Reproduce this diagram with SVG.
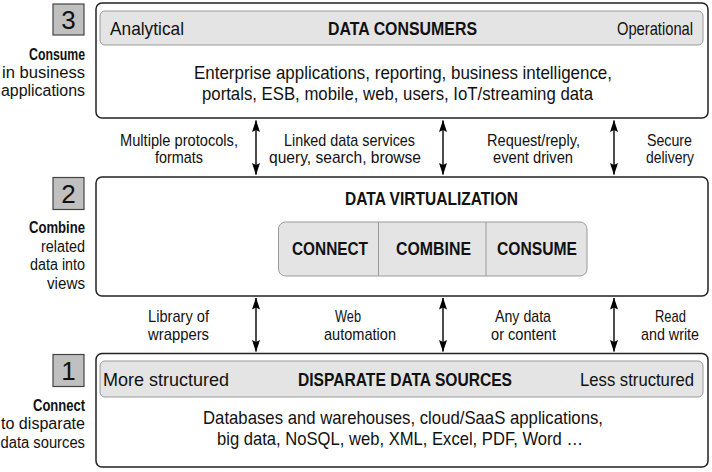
<svg xmlns="http://www.w3.org/2000/svg" width="712" height="472" viewBox="0 0 712 472">
<defs>
<marker id="ah" viewBox="0 0 12 8" refX="11.5" refY="4" markerWidth="12" markerHeight="8" markerUnits="userSpaceOnUse" orient="auto-start-reverse">
<path d="M0,0 L12,4 L0,8 L2,4 Z" fill="#000"/>
</marker>
<style>
text{font-family:"Liberation Sans",Arial,sans-serif;fill:#111}
.t{font-size:18.5px}
.b{font-weight:bold}
.s{font-size:16px}
.c{font-size:17px}
.n{font-size:26px}
.m{text-anchor:middle}
.e{text-anchor:end}
.box{fill:#fff;stroke:#222;stroke-width:1.5}
.bar{fill:#e4e4e4;stroke:#9a9a9a;stroke-width:1}
.num{fill:#c0c0c0;stroke:#444;stroke-width:1.2}
.arr{stroke:#000;stroke-width:1.4;fill:none;marker-start:url(#ah);marker-end:url(#ah)}
</style>
</defs>
<g id="layer3">
<rect class="box" x="96" y="3" width="612" height="115" rx="6"/>
<rect class="bar" x="100" y="11" width="603" height="34" rx="5"/>
<text class="t" x="110" y="34.5" textLength="74" lengthAdjust="spacingAndGlyphs">Analytical</text>
<text class="t b" x="328" y="34.5" textLength="149" lengthAdjust="spacingAndGlyphs">DATA CONSUMERS</text>
<text class="t" x="617" y="34.5" textLength="76" lengthAdjust="spacingAndGlyphs">Operational</text>
<text class="t" x="194" y="79" textLength="418" lengthAdjust="spacingAndGlyphs">Enterprise applications, reporting, business intelligence,</text>
<text class="t" x="202" y="100" textLength="391" lengthAdjust="spacingAndGlyphs">portals, ESB, mobile, web, users, IoT/streaming data</text>
</g>
<g id="label3">
<rect class="num" x="53" y="4" width="31" height="31"/>
<text class="n m" x="68.5" y="29">3</text>
<text class="s b" x="29" y="59.5" textLength="56" lengthAdjust="spacingAndGlyphs">Consume</text>
<text class="s" x="2" y="77.5" textLength="83" lengthAdjust="spacingAndGlyphs">in business</text>
<text class="s" x="1" y="95.5" textLength="84" lengthAdjust="spacingAndGlyphs">applications</text>
</g>
<g id="layer2">
<rect class="box" x="96" y="177" width="612" height="119" rx="6"/>
<text class="t b" x="345" y="205" textLength="173" lengthAdjust="spacingAndGlyphs">DATA VIRTUALIZATION</text>
<rect class="bar" x="278.5" y="222" width="308.5" height="54" rx="7"/>
<line x1="378.5" y1="222" x2="378.5" y2="276" stroke="#9a9a9a" stroke-width="1"/>
<line x1="486" y1="222" x2="486" y2="276" stroke="#9a9a9a" stroke-width="1"/>
<text class="t b" x="292" y="254.5" textLength="76" lengthAdjust="spacingAndGlyphs">CONNECT</text>
<text class="t b" x="396" y="254.5" textLength="75" lengthAdjust="spacingAndGlyphs">COMBINE</text>
<text class="t b" x="497" y="254.5" textLength="80" lengthAdjust="spacingAndGlyphs">CONSUME</text>
</g>
<g id="label2">
<rect class="num" x="53" y="177.5" width="31" height="32"/>
<text class="n m" x="68.5" y="203">2</text>
<text class="s b" x="29" y="233" textLength="56" lengthAdjust="spacingAndGlyphs">Combine</text>
<text class="s" x="41" y="251.5" textLength="44" lengthAdjust="spacingAndGlyphs">related</text>
<text class="s" x="30" y="270" textLength="55" lengthAdjust="spacingAndGlyphs">data into</text>
<text class="s" x="47" y="289" textLength="38" lengthAdjust="spacingAndGlyphs">views</text>
</g>
<g id="layer1">
<rect class="box" x="96" y="353.5" width="612" height="113.5" rx="6"/>
<rect class="bar" x="100" y="361" width="603" height="36" rx="5"/>
<text class="t" x="103" y="386" textLength="126" lengthAdjust="spacingAndGlyphs">More structured</text>
<text class="t b" x="298" y="386" textLength="214" lengthAdjust="spacingAndGlyphs">DISPARATE DATA SOURCES</text>
<text class="t" x="580" y="386" textLength="114" lengthAdjust="spacingAndGlyphs">Less structured</text>
<text class="t" x="203" y="424" textLength="400" lengthAdjust="spacingAndGlyphs">Databases and warehouses, cloud/SaaS applications,</text>
<text class="t" x="217" y="444.5" textLength="366" lengthAdjust="spacingAndGlyphs">big data, NoSQL, web, XML, Excel, PDF, Word …</text>
</g>
<g id="label1">
<rect class="num" x="53" y="354.5" width="31" height="32"/>
<text class="n m" x="68.5" y="380">1</text>
<text class="s b" x="33" y="410.5" textLength="52" lengthAdjust="spacingAndGlyphs">Connect</text>
<text class="s" x="1" y="429" textLength="84" lengthAdjust="spacingAndGlyphs">to disparate</text>
<text class="s" x="0.5" y="447.5" textLength="84.5" lengthAdjust="spacingAndGlyphs">data sources</text>
</g>
<g id="connectors">
<line class="arr" x1="256" y1="120.5" x2="256" y2="174.5"/>
<line class="arr" x1="443" y1="120.5" x2="443" y2="174.5"/>
<line class="arr" x1="614" y1="120.5" x2="614" y2="174.5"/>
<line class="arr" x1="256" y1="298" x2="256" y2="351.5"/>
<line class="arr" x1="443" y1="298" x2="443" y2="351.5"/>
<line class="arr" x1="614" y1="298" x2="614" y2="351.5"/>
</g>
<g id="connector-labels">
<text class="c" x="120" y="145.5" textLength="118" lengthAdjust="spacingAndGlyphs">Multiple protocols,</text>
<text class="c" x="155" y="163" textLength="48" lengthAdjust="spacingAndGlyphs">formats</text>
<text class="c" x="284" y="145.5" textLength="131" lengthAdjust="spacingAndGlyphs">Linked data services</text>
<text class="c" x="269" y="163" textLength="152" lengthAdjust="spacingAndGlyphs">query, search, browse</text>
<text class="c" x="487" y="145.5" textLength="93" lengthAdjust="spacingAndGlyphs">Request/reply,</text>
<text class="c" x="493" y="163" textLength="80" lengthAdjust="spacingAndGlyphs">event driven</text>
<text class="c" x="647" y="145.5" textLength="45" lengthAdjust="spacingAndGlyphs">Secure</text>
<text class="c" x="646" y="163" textLength="48" lengthAdjust="spacingAndGlyphs">delivery</text>
<text class="c" x="148" y="322" textLength="61" lengthAdjust="spacingAndGlyphs">Library of</text>
<text class="c" x="148" y="339.5" textLength="61" lengthAdjust="spacingAndGlyphs">wrappers</text>
<text class="c" x="335" y="322" textLength="26" lengthAdjust="spacingAndGlyphs">Web</text>
<text class="c" x="324" y="339.5" textLength="72" lengthAdjust="spacingAndGlyphs">automation</text>
<text class="c" x="495" y="322" textLength="56" lengthAdjust="spacingAndGlyphs">Any data</text>
<text class="c" x="491" y="339.5" textLength="65" lengthAdjust="spacingAndGlyphs">or content</text>
<text class="c" x="655" y="322" textLength="31" lengthAdjust="spacingAndGlyphs">Read</text>
<text class="c" x="641" y="339.5" textLength="58" lengthAdjust="spacingAndGlyphs">and write</text>
</g>
</svg>
